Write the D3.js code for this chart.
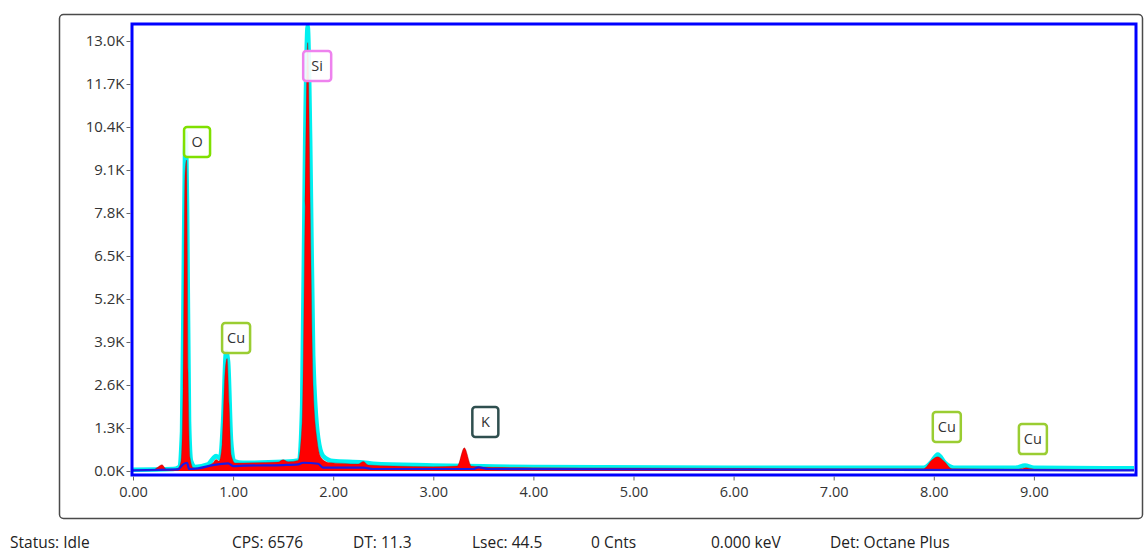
<!DOCTYPE html>
<html>
<head>
<meta charset="utf-8">
<script src="https://cdn.jsdelivr.net/npm/d3@7"></script>
<style>
  html, body { margin: 0; padding: 0; background: #ffffff; }
  svg { display: block; font-family: "Open Sans", "Noto Sans", sans-serif; }
</style>
</head>
<body>
<svg id="chart" width="1144" height="552"></svg>
<script>
// ---------- DATA ----------
// measured spectrum (red filled)
const specEnergy = [0.00,0.20,0.25,0.29,0.33,0.40,0.45,0.48,0.50,0.52,0.535,0.55,0.57,0.60,0.65,0.75,0.80,0.83,0.86,0.89,0.92,0.94,0.96,0.98,1.02,1.20,1.45,1.50,1.55,1.65,1.69,1.72,1.745,1.77,1.80,1.84,1.88,1.95,2.10,2.25,2.30,2.35,2.60,3.00,3.24,3.31,3.38,3.60,4.00,5.00,6.00,7.00,7.90,7.98,8.04,8.10,8.18,8.85,8.92,9.00,10.0];
const specCounts = [20,30,120,190,60,50,80,300,2500,9000,9400,3000,400,100,80,150,250,350,300,800,3000,3400,2000,500,240,250,270,340,280,320,1500,8000,12950,8000,2500,900,400,260,230,210,290,180,150,130,150,700,150,110,100,90,80,70,70,330,430,300,70,60,100,60,40];

// fitted envelope (cyan)
const fitEnergy = [0.00,0.40,0.46,0.49,0.51,0.525,0.54,0.56,0.58,0.62,0.75,0.80,0.83,0.87,0.90,0.93,0.95,0.98,1.01,1.10,1.50,1.66,1.69,1.72,1.745,1.77,1.80,1.85,1.90,2.00,2.30,2.40,3.00,3.50,4.00,6.00,7.90,7.97,8.04,8.11,8.20,8.82,8.91,9.00,10.0];
const fitCounts = [40,60,120,1200,7000,10250,8000,1500,300,120,200,380,450,380,1500,3600,3300,900,300,250,280,320,2000,10000,13450,10000,3500,1000,450,300,260,220,170,140,120,100,100,250,500,250,100,100,170,100,80];

// background (blue)
const bgEnergy = [0.00,0.45,0.50,0.54,0.56,0.65,0.80,0.95,1.00,1.10,1.50,1.65,1.70,1.85,1.90,2.30,2.40,3.40,3.45,3.55,10.0];
const bgCounts = [20,50,200,250,60,80,180,230,150,160,180,200,250,220,100,100,60,60,110,60,20];

// element labels
const labelText   = ["O", "Cu", "Si", "K", "Cu", "Cu"];
const labelEnergy = [0.51, 0.89, 1.70, 3.39, 7.99, 8.85];
const labelCount  = [9460, 3540, 11760, 1000, 850, 480];
const labelColor  = ["#7fe000", "#9acd32", "#ee82ee", "#2f4f4f", "#9acd32", "#9acd32"];

// ticks
const xTicks = [0,1,2,3,4,5,6,7,8,9];
const yTicks = [0,1300,2600,3900,5200,6500,7800,9100,10400,11700,13000];

// status bar
const statusText = ["Status: Idle", "CPS: 6576", "DT: 11.3", "Lsec: 44.5", "0 Cnts", "0.000 keV", "Det: Octane Plus"];
const statusX    = [10, 232, 353, 472, 591, 711, 830];

// ---------- DRAW ----------
const svg = d3.select("#chart");
const plot = { left: 132, right: 1136, top: 24, bottom: 475 };

const x = d3.scaleLinear().domain([0, 10]).range([133, 1134]);
const y = d3.scaleLinear().domain([-121, 13514]).range([475, 24]);

// outer panel
svg.append("rect")
  .attr("x", 59.5).attr("y", 14.5)
  .attr("width", 1083).attr("height", 504)
  .attr("rx", 4).attr("ry", 4)
  .attr("fill", "#ffffff")
  .attr("stroke", "#4a4a4a").attr("stroke-width", 1.5);

svg.append("defs").append("clipPath").attr("id", "clip")
  .append("rect")
  .attr("x", plot.left).attr("y", plot.top)
  .attr("width", plot.right - plot.left).attr("height", plot.bottom - plot.top);

const g = svg.append("g").attr("clip-path", "url(#clip)");

const zip = (e, c) => e.map((v, i) => [v, c[i]]);
const specData = zip(specEnergy, specCounts);
const fitData = zip(fitEnergy, fitCounts);
const bgData = zip(bgEnergy, bgCounts);

const line = d3.line().x(d => x(d[0])).y(d => y(d[1])).curve(d3.curveMonotoneX);
const area = d3.area().x(d => x(d[0])).y0(y(0)).y1(d => y(d[1])).curve(d3.curveMonotoneX);

// cyan envelope underneath
g.append("path").datum(fitData)
  .attr("d", line)
  .attr("fill", "none")
  .attr("stroke", "#00f0f0")
  .attr("stroke-width", 4.5)
  .attr("stroke-linejoin", "round");

// red spectrum
g.append("path").datum(specData)
  .attr("d", area)
  .attr("fill", "#ff0000");

g.append("path").datum(specData)
  .attr("d", line)
  .attr("fill", "none")
  .attr("stroke", "#7a2020")
  .attr("stroke-opacity", 0.45)
  .attr("stroke-width", 0.8);

// blue background
g.append("path").datum(bgData)
  .attr("d", line)
  .attr("fill", "none")
  .attr("stroke", "#1a1ae6")
  .attr("stroke-width", 2.2);

// plot border
svg.append("rect")
  .attr("x", plot.left).attr("y", plot.top)
  .attr("width", plot.right - plot.left).attr("height", plot.bottom - plot.top)
  .attr("fill", "none")
  .attr("stroke", "#0000ff").attr("stroke-width", 3);

// axes
const yAxis = d3.axisLeft(y).tickValues(yTicks).tickSize(4).tickPadding(2)
  .tickFormat(d => (d / 1000).toFixed(1) + "K");
const ya = svg.append("g").attr("transform", `translate(${plot.left - 1.5},0)`).call(yAxis);

const xAxis = d3.axisBottom(x).tickValues(xTicks).tickSize(4).tickPadding(6)
  .tickFormat(d => d.toFixed(2));
const xa = svg.append("g").attr("transform", `translate(0,${plot.bottom + 1.5})`).call(xAxis);

[ya, xa].forEach(a => {
  a.select(".domain").remove();
  a.selectAll(".tick line").attr("stroke", "#666");
  a.selectAll(".tick text")
    .attr("fill", "#333")
    .style("font-family", "'Open Sans', 'Noto Sans', sans-serif");
});
ya.selectAll(".tick text").style("font-size", "15px");
xa.selectAll(".tick text").style("font-size", "14.5px");

// element labels
const lab = svg.append("g").selectAll("g")
  .data(labelText.map((t, i) => ({ t, e: labelEnergy[i], c: labelCount[i], col: labelColor[i] })))
  .join("g")
  .attr("transform", d => `translate(${x(d.e)},${y(d.c)})`);

lab.each(function(d) {
  const w = d.t.length > 1 ? 28 : (d.t === "Si" ? 24 : 26);
  d3.select(this).append("rect")
    .attr("x", 0).attr("y", -31)
    .attr("width", w).attr("height", 30)
    .attr("rx", 3).attr("ry", 3)
    .attr("fill", "#ffffff")
    .attr("fill-opacity", 0.9)
    .attr("stroke", d.col).attr("stroke-width", 2.5);
  d3.select(this).append("text")
    .attr("x", w / 2).attr("y", -11)
    .attr("text-anchor", "middle")
    .attr("fill", "#333")
    .style("font-size", "14.5px")
    .text(d.t);
});

// status bar
svg.append("g").selectAll("text")
  .data(statusText)
  .join("text")
  .attr("x", (d, i) => statusX[i])
  .attr("y", 548)
  .attr("fill", "#222")
  .style("font-size", "15.5px")
  .text(d => d);
</script>
</body>
</html>
